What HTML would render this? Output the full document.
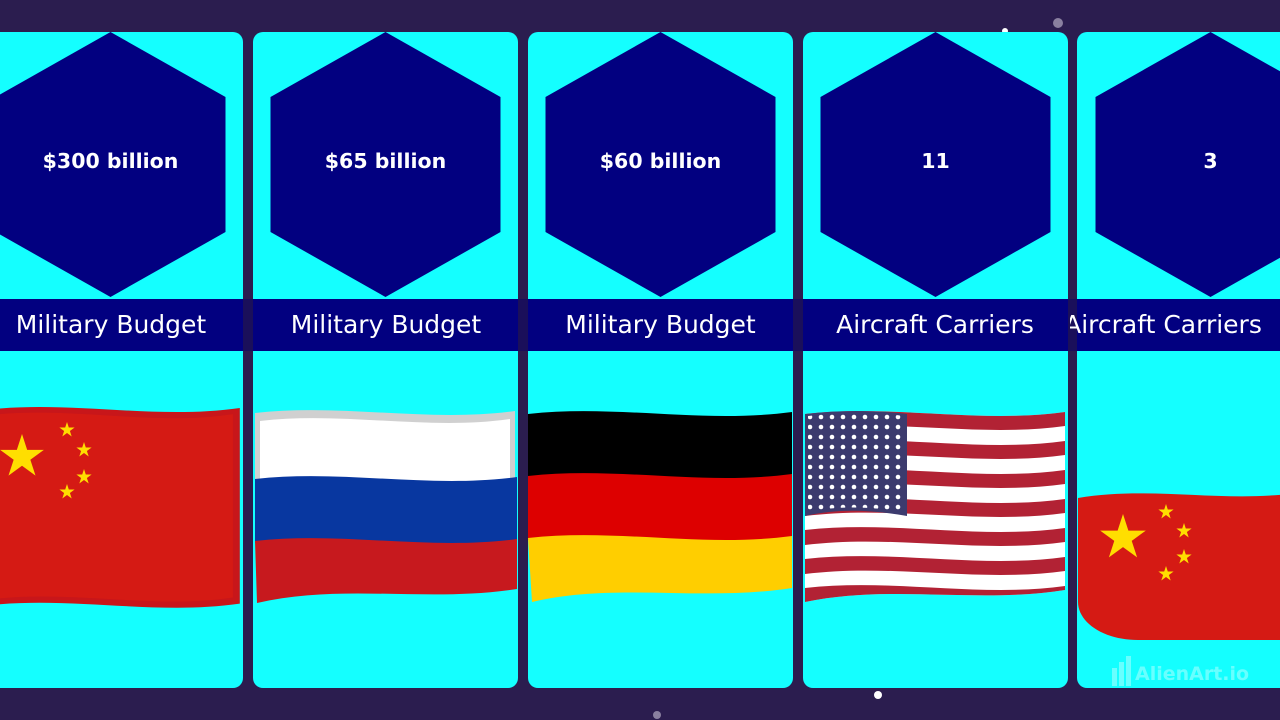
<!DOCTYPE html>
<html><head><meta charset="utf-8"><style>
html,body{margin:0;padding:0;background:#2b1d4f;}
svg{display:block}
text{font-family:"DejaVu Sans","Liberation Sans",sans-serif;}
</style></head><body>
<svg width="1280" height="720" viewBox="0 0 1280 720" xmlns="http://www.w3.org/2000/svg">
<defs>
<clipPath id="c5"><rect x="1070" y="0" width="220" height="720"/></clipPath>
<pattern id="st" x="0" y="0" width="11" height="10" patternUnits="userSpaceOnUse"><circle cx="5" cy="5" r="2.3" fill="#fff"/></pattern>
<polygon id="star" points="0,-1 0.2245,-0.309 0.951,-0.309 0.363,0.118 0.588,0.809 0,0.382 -0.588,0.809 -0.363,0.118 -0.951,-0.309 -0.2245,-0.309" fill="#ffde00"/>
</defs>
<rect width="1280" height="720" fill="#2b1d4f"/>
<circle cx="1058" cy="23" r="5" fill="#8a80a0"/>
<circle cx="1005" cy="31" r="3" fill="#fff"/>
<circle cx="878" cy="695" r="4" fill="#fff"/>
<circle cx="657" cy="715" r="4" fill="#8a80a0"/>

<g fill="#14ffff">
<rect x="-22" y="32" width="265" height="656" rx="10"/>
<rect x="253" y="32" width="265" height="656" rx="10"/>
<rect x="528" y="32" width="265" height="656" rx="10"/>
<rect x="803" y="32" width="265" height="656" rx="10"/>
<rect x="1077" y="32" width="265" height="656" rx="10"/>
</g>
<g fill="#020080">
<polygon points="110.5,32 225.5,97 225.5,232 110.5,297 -4.5,232 -4.5,97"/>
<polygon points="385.5,32 500.5,97 500.5,232 385.5,297 270.5,232 270.5,97"/>
<polygon points="660.5,32 775.5,97 775.5,232 660.5,297 545.5,232 545.5,97"/>
<polygon points="935.5,32 1050.5,97 1050.5,232 935.5,297 820.5,232 820.5,97"/>
<polygon points="1210.5,32 1325.5,97 1325.5,232 1210.5,297 1095.5,232 1095.5,97"/>
</g>
<rect x="0" y="299" width="1280" height="52" fill="#020080"/>
<g fill="#1a0f5a"><rect x="243" y="299" width="10" height="52"/><rect x="518" y="299" width="10" height="52"/><rect x="793" y="299" width="10" height="52"/><rect x="1068" y="299" width="9" height="52"/></g>

<g fill="#fff" font-weight="bold" font-size="20.5" text-anchor="middle">
<text x="110.5" y="168">$300 billion</text>
<text x="385.5" y="168">$65 billion</text>
<text x="660.5" y="168">$60 billion</text>
<text x="935.5" y="168">11</text>
<text x="1210.5" y="168">3</text>
</g>
<g fill="#fff" font-size="25" text-anchor="middle">
<text x="111" y="333">Military Budget</text>
<text x="386" y="333">Military Budget</text>
<text x="660.5" y="333">Military Budget</text>
<text x="935" y="333">Aircraft Carriers</text>
<text x="1163" y="333" clip-path="url(#c5)">Aircraft Carriers</text>
</g>

<g transform="translate(-15,410) scale(0.98,1.03)">
<path d="M0,0 C87,-10 173,10 260,-2 L260,188 C173,200 87,180 0,190 Z" fill="#c8161a"/>
<path d="M5,5 C87,-4 173,16 253,4 L253,182 C173,194 87,174 5,184 Z" fill="#d51a14"/>
</g>
<use href="#star" transform="translate(22,457) scale(23)"/>
<use href="#star" transform="translate(67,430) scale(8)"/>
<use href="#star" transform="translate(84,450) scale(8)"/>
<use href="#star" transform="translate(84,477) scale(8)"/>
<use href="#star" transform="translate(67,492) scale(8)"/>

<g transform="translate(255,413)">
<path d="M0,0 C87,-10 173,10 260,-2 L260,66 C173,78 87,58 0,68 Z" fill="#d0d0d0"/>
<path d="M5,8 C87,-2 173,18 255,6 L255,66 C173,78 87,58 5,68 Z" fill="#fff"/>
<path d="M0,66 C87,56 173,76 262,64 L262,128 C173,140 87,120 0,130 Z" fill="#0837a0"/>
<path d="M0,128 C87,118 173,138 262,126 L262,176 C173,190 87,170 2,190 Z" fill="#c7191e"/>
</g>

<g transform="translate(528,410)">
<path d="M0,4 C87,-6 173,14 264,2 L264,66 C173,78 87,58 0,68 Z" fill="#000"/>
<path d="M0,66 C87,56 173,76 264,64 L264,128 C173,140 87,120 0,130 Z" fill="#dd0000"/>
<path d="M0,128 C87,118 173,138 264,126 L264,178 C173,192 87,172 4,192 Z" fill="#ffce00"/>
</g>

<g transform="translate(805,412)">
<path d="M0,2 C87,-8 173,12 260,0 L260,178 C173,192 87,172 0,190 Z" fill="#fff"/>
<g fill="#b22234">
<path d="M0,2 C87,-8 173,12 260,0 L260,14 C173,26 87,6 0,17 Z"/>
<path d="M0,31 C87,21 173,41 260,29 L260,43 C173,55 87,35 0,46 Z"/>
<path d="M0,60 C87,50 173,70 260,58 L260,72 C173,84 87,64 0,75 Z"/>
<path d="M0,89 C87,79 173,99 260,87 L260,101 C173,113 87,93 0,104 Z"/>
<path d="M0,118 C87,108 173,128 260,116 L260,130 C173,142 87,122 0,133 Z"/>
<path d="M0,147 C87,137 173,157 260,145 L260,159 C173,171 87,151 0,162 Z"/>
<path d="M0,176 C87,166 173,186 260,174 L260,178 C173,192 87,172 0,190 Z"/>
</g>
<path d="M0,2 C34,-2 68,-2 102,2 L102,104 C68,98 34,96 0,104 Z" fill="#3c3b6e"/>
<path d="M3,4 C34,0 68,0 100,4 L100,100 C68,95 34,93 3,100 Z" fill="url(#st)"/>
</g>

<g transform="translate(1078,492)">
<path d="M0,6 C70,-6 140,10 210,2 L210,148 L60,148 C25,148 0,130 0,110 Z" fill="#d51a14"/>
</g>
<use href="#star" transform="translate(1123,538) scale(24)"/>
<use href="#star" transform="translate(1166,512) scale(8)"/>
<use href="#star" transform="translate(1184,531) scale(8)"/>
<use href="#star" transform="translate(1184,557) scale(8)"/>
<use href="#star" transform="translate(1166,574) scale(8)"/>

<text x="1135" y="680" font-size="19" font-weight="bold" fill="#7fffff" opacity="0.8">AlienArt.io</text>
<g fill="#7fffff" opacity="0.8"><rect x="1112" y="668" width="5" height="18"/><rect x="1119" y="662" width="5" height="24"/><rect x="1126" y="656" width="5" height="30"/></g>
</svg>
</body></html>
